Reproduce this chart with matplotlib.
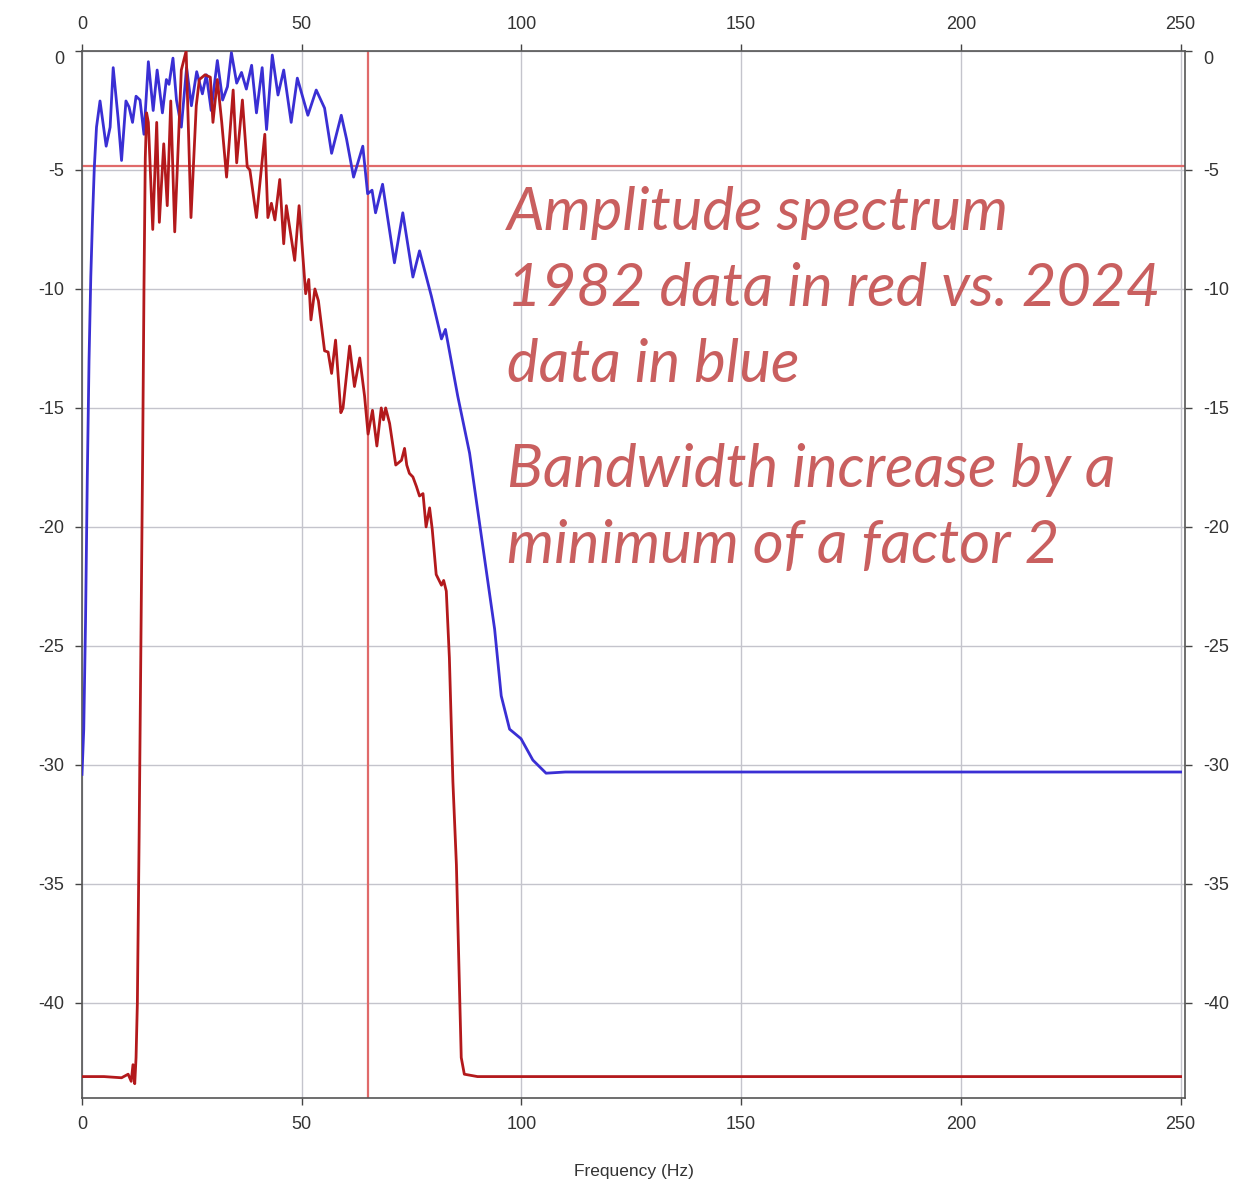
import numpy as np
import matplotlib.pyplot as plt

# amplitude spectrum, 2024 data (blue)
blue_freq = [0, 0.4, 0.8, 1.2, 1.6, 2.0, 2.4, 2.8, 3.3, 4.1, 5.5, 6.4, 7.1, 8.2, 9.0,
             10.0, 10.7, 11.5, 12.3, 13.2, 14.1, 15.1, 16.2, 17.1, 18.3, 19.2, 19.8,
             20.7, 21.5, 22.6, 23.8, 24.9, 26.1, 27.4, 28.3, 29.4, 30.8, 32.0, 33.1,
             34.0, 35.2, 36.3, 37.4, 38.6, 39.7, 41.0, 42.0, 43.3, 44.6, 45.9, 47.6,
             49.0, 51.4, 53.3, 55.2, 56.8, 57.9, 59.0, 60.2, 61.8, 63.9, 65.0, 66.0,
             66.8, 68.4, 71.1, 73.0, 75.3, 76.8, 79.5, 81.8, 82.7, 85.5, 88.2, 91.2,
             93.9, 95.4, 97.3, 99.9, 102.6, 105.6, 110, 150, 200, 250]
blue_db = [-30.4, -28.5, -24, -18, -13, -9.5, -7, -4.9, -3.2, -2.1, -4.0, -3.2, -0.7, -2.8, -4.6,
           -2.1, -2.35, -3.0, -1.9, -2.06, -3.5, -0.45, -2.5, -0.8, -2.6, -1.2, -1.4,
           -0.3, -2.06, -3.2, -0.7, -2.3, -0.87, -1.8, -1.0, -2.5, -0.4, -2.06, -1.5,
           -0.07, -1.35, -0.9, -1.6, -0.6, -2.6, -0.7, -3.3, -0.17, -1.85, -0.8, -3.0,
           -1.14, -2.7, -1.64, -2.4, -4.3, -3.5, -2.7, -3.7, -5.3, -4.0, -6.0, -5.85,
           -6.8, -5.6, -8.9, -6.8, -9.5, -8.4, -10.3, -12.1, -11.7, -14.5, -16.9, -20.8,
           -24.3, -27.1, -28.5, -28.9, -29.8, -30.35, -30.3, -30.3, -30.3, -30.3]

# amplitude spectrum, 1982 data (red)
red_freq = [0, 5, 9, 10.5, 11.2, 11.6, 12.0, 12.3, 12.6, 13.0, 13.4, 13.8, 14.1, 14.4,
            14.7, 15.1, 16.1, 17.0, 17.6, 18.6, 19.4, 20.2, 21.1, 22.6, 23.7, 24.8,
            26.0, 26.7, 28.0, 29.2, 29.8, 30.8, 31.8, 32.9, 34.4, 35.2, 36.5, 37.6,
            38.2, 39.7, 41.6, 42.3, 43.1, 43.9, 45.0, 45.9, 46.5, 48.4, 49.4, 50.9,
            51.6, 52.1, 53.0, 53.8, 55.2, 56.0, 56.8, 57.7, 58.9, 59.4, 60.9, 62.0,
            63.2, 64.3, 65.1, 66.1, 67.1, 68.1, 68.6, 69.1, 70.0, 71.4, 72.7, 73.4,
            73.9, 74.5, 75.3, 76.1, 76.8, 77.6, 78.3, 79.1, 79.7, 80.6, 81.8, 82.3,
            82.9, 83.6, 84.4, 85.2, 85.9, 86.3, 87.0, 90, 150, 200, 250]
red_db = [-43.1, -43.1, -43.15, -43.0, -43.3, -42.6, -43.4, -42.3, -40.0, -33.0, -25.0, -17.0, -10.0, -4.5,
          -2.6, -3.0, -7.5, -3.0, -7.2, -3.9, -6.5, -2.1, -7.6, -0.8, 0.0, -7.0,
          -2.3, -1.2, -1.0, -1.1, -3.0, -1.2, -3.0, -5.3, -1.64, -4.7, -2.06, -4.87,
          -5.0, -7.0, -3.5, -7.0, -6.4, -7.1, -5.4, -8.1, -6.5, -8.8, -6.5, -10.2,
          -9.6, -11.3, -10.0, -10.5, -12.6, -12.65, -13.55, -12.15, -15.2, -15.0, -12.4, -14.1,
          -12.9, -14.5, -16.1, -15.1, -16.6, -15.0, -15.5, -15.0, -15.65, -17.4, -17.2, -16.7,
          -17.4, -17.75, -17.9, -18.3, -18.7, -18.6, -20.0, -19.2, -20.1, -22.0, -22.45, -22.25,
          -22.7, -25.5, -30.7, -34.2, -39.4, -42.3, -43.0, -43.1, -43.1, -43.1, -43.1]

# cursor cross lines
cursor_freq = 65.0
cursor_db = -4.85

x_ticks = [0, 50, 100, 150, 200, 250]
y_ticks = [0, -5, -10, -15, -20, -25, -30, -35, -40]

note_lines = ['Amplitude spectrum', '1982 data in red vs. 2024', 'data in blue',
              'Bandwidth increase by a', 'minimum of a factor 2']
note_baselines = [230, 306, 382, 487, 563]   # pixel rows from the top

W, H = 1255, 1179
plt.rcParams['font.family'] = ['Liberation Sans', 'DejaVu Sans']
plt.rcParams['axes.unicode_minus'] = False
fig = plt.figure(figsize=(W / 100, H / 100), dpi=100)
ax = fig.add_axes([82 / W, 1 - 1098 / H, (1185 - 82) / W, (1098 - 51) / H])

ax.plot(blue_freq, blue_db, color='#3a2fd4', lw=2.0, zorder=3)
ax.plot(red_freq, red_db, color='#b3191c', lw=2.0, zorder=3)
ax.axvline(cursor_freq, color='#e06a6a', lw=1.6, zorder=2)
ax.axhline(cursor_db, color='#e06a6a', lw=1.6, zorder=2)

ax.set_xlim(0, 251)
ax.set_ylim(-44, 0)
ax.set_xticks(x_ticks)
ax.set_yticks(y_ticks)
ax.grid(True, color='#c4c4cc', lw=1.0, zorder=0)
ax.tick_params(axis='both', direction='out', length=5, width=1, colors='#444444',
               labelcolor='#333333', labelsize=13)
ax.tick_params(axis='x', top=True, labeltop=True, pad=8)
ax.tick_params(axis='y', right=True, labelright=True, pad=8)
for s in ax.spines.values():
    s.set_color('#555555')
    s.set_linewidth(1.2)

# the 0 dB labels sit just under their tick in the original
for lab in ax.yaxis.get_majorticklabels():
    if lab.get_text() == '0':
        lab.set_va('top')

ax.set_xlabel('Frequency (Hz)', fontsize=12.5, color='#333333', labelpad=22)

for line, base in zip(note_lines, note_baselines):
    fig.text(507 / W, 1 - base / H, line, fontsize=43, style='italic',
             family=['Lato', 'DejaVu Sans'], color='#c95f5f', va='baseline', ha='left')

fig.savefig('out.png', dpi=100)
